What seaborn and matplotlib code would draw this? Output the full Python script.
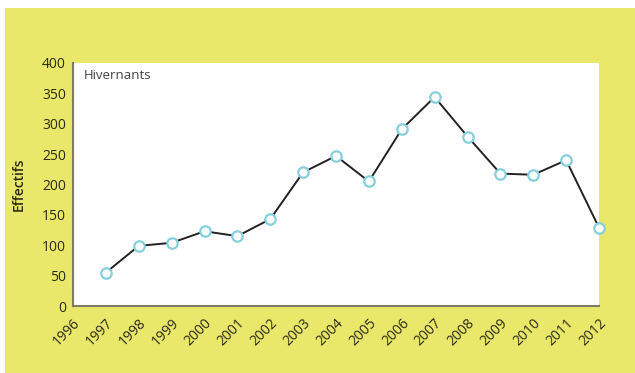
import matplotlib
matplotlib.use("Agg")
import matplotlib.pyplot as plt
import seaborn as sns
import pandas as pd
from matplotlib.patches import Rectangle

# Hivernants counts per year
years = [1997, 1998, 1999, 2000, 2001, 2002, 2003, 2004, 2005, 2006, 2007, 2008, 2009, 2010, 2011, 2012]
effectifs = [55, 99, 104, 123, 115, 143, 220, 247, 205, 291, 344, 279, 218, 216, 240, 129]
x_ticks = list(range(1996, 2013))
y_ticks = [0, 50, 100, 150, 200, 250, 300, 350, 400]

df = pd.DataFrame({'annee': years, 'effectifs': effectifs})

sns.set_style("white")
plt.rcParams['font.family'] = ['Open Sans', 'DejaVu Sans']

fig = plt.figure(figsize=(6.35, 3.73), dpi=100)
fig.patch.set_facecolor('white')
# yellow panel, leaving a thin white margin top and left
fig.patches.append(Rectangle((5 / 635, 0), 1, 1 - 8 / 373, transform=fig.transFigure,
                             facecolor='#eae86a', edgecolor='none', zorder=-10))

ax = fig.add_axes([73 / 635, 1 - 306 / 373, (599 - 73) / 635, (306 - 63) / 373])
ax.set_facecolor('white')

sns.lineplot(data=df, x='annee', y='effectifs', ax=ax, color='#222222', linewidth=1.4,
             marker='o', markersize=7.5, markerfacecolor='white', markeredgecolor='#86cfdc',
             markeredgewidth=1.6, clip_on=False)

ax.set_xlim(1996, 2012)
ax.set_ylim(0, 400)
ax.set_xticks(x_ticks)
ax.set_yticks(y_ticks)
ax.set_xticklabels([str(t) for t in x_ticks], rotation=45, ha='right', rotation_mode='anchor')
ax.tick_params(axis='both', which='major', labelsize=10, colors='#2a2a1a', length=3, width=1,
               direction='out', pad=2)
ax.tick_params(axis='both', color='#7d7d66')
ax.tick_params(axis='x', pad=4)

for side in ['top', 'right']:
    ax.spines[side].set_visible(False)
for side in ['left', 'bottom']:
    ax.spines[side].set_color('#7d7d66')
    ax.spines[side].set_linewidth(1.5)

ax.set_xlabel('')
ax.set_ylabel('Effectifs', fontsize=10, color='#2a2a1a', labelpad=12, fontweight='semibold')
ax.text(0.02, 0.975, 'Hivernants', transform=ax.transAxes, fontsize=9.5, color='#444444',
        va='top', ha='left')

fig.savefig('out.png', dpi=100, facecolor=fig.get_facecolor())
